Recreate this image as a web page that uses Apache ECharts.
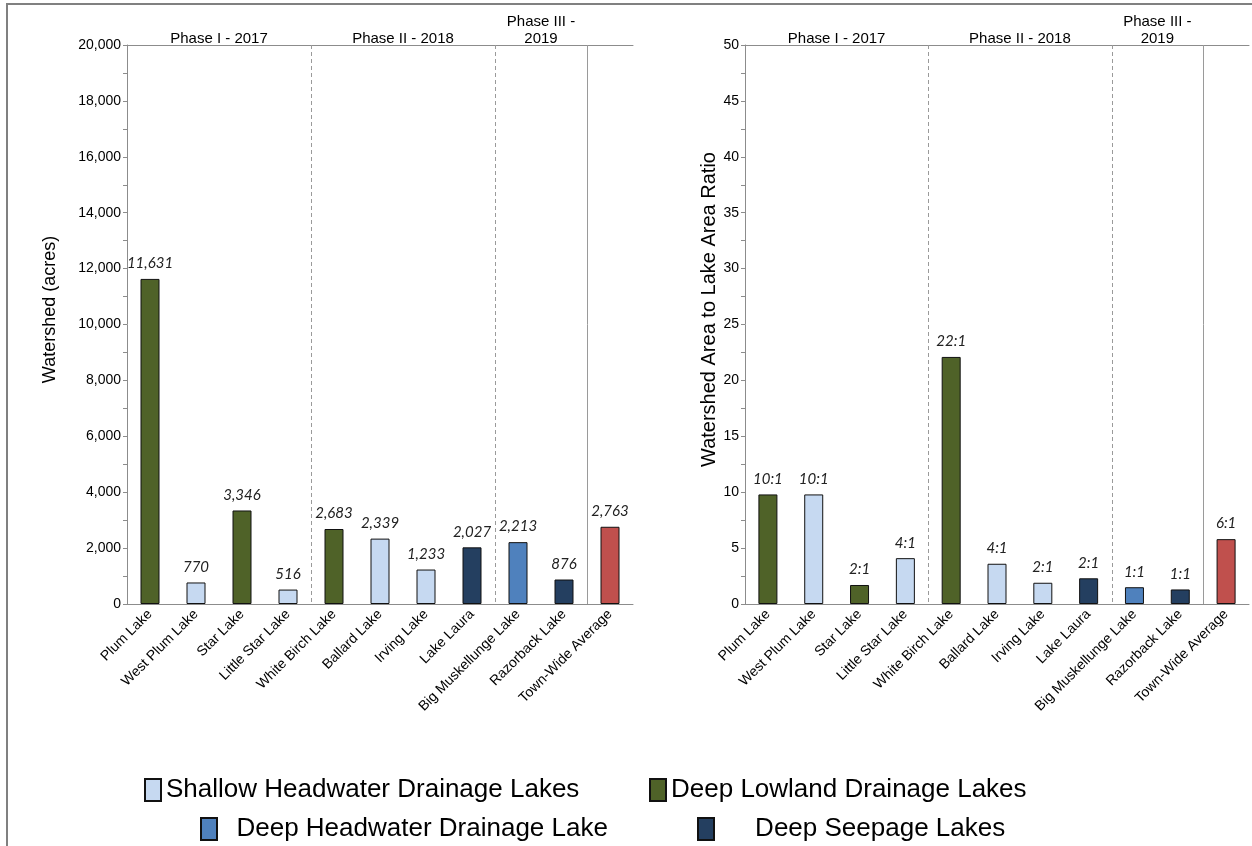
<!DOCTYPE html>
<html><head><meta charset="utf-8">
<script src="https://cdn.jsdelivr.net/npm/echarts@6/dist/echarts.min.js"></script>
<style>html,body{margin:0;padding:0;background:#fff}#c{width:1252px;height:846px}</style>
</head><body><div id="c"></div>
<script>
const lakes = ['Plum Lake','West Plum Lake','Star Lake','Little Star Lake','White Birch Lake','Ballard Lake','Irving Lake','Lake Laura','Big Muskellunge Lake','Razorback Lake','Town-Wide Average'];
const lakeClass = ['Deep Lowland Drainage Lakes','Shallow Headwater Drainage Lakes','Deep Lowland Drainage Lakes','Shallow Headwater Drainage Lakes','Deep Lowland Drainage Lakes','Shallow Headwater Drainage Lakes','Shallow Headwater Drainage Lakes','Deep Seepage Lakes','Deep Headwater Drainage Lake','Deep Seepage Lakes','Town-Wide Average'];
const watershedAcres = [11631,770,3346,516,2683,2339,1233,2027,2213,876,2763];
const areaRatio = [9.8,9.8,1.7,4.1,22.1,3.6,1.9,2.3,1.5,1.3,5.8];
const ratioLabels = ['10:1','10:1','2:1','4:1','22:1','4:1','2:1','2:1','1:1','1:1','6:1'];
const classNames = ['Shallow Headwater Drainage Lakes','Deep Lowland Drainage Lakes','Deep Headwater Drainage Lake','Deep Seepage Lakes','Town-Wide Average'];
const classColors = ['#C6D9F1','#4F6228','#4F81BD','#243F60','#C0504D'];
const phaseCenters = [2,6,9];
const phaseLabels = ['Phase I - 2017','Phase II - 2018','Phase III -\n2019'];
const phaseBreaks = [4,8];
const averageBreak = [10];
const leftAxis = {min:0,max:20000,interval:2000};
const rightAxis = {min:0,max:50,interval:5};

const FONT = '"Liberation Sans", Arial, sans-serif';
const AX = '#8c8c8c';

function barSeries(values, labelFn, xi, yi){
  return classNames.map((cn, k) => ({
    type:'bar', name:cn, xAxisIndex:xi, yAxisIndex:yi, stack:'s'+xi,
    barWidth:19,
    data: values.map((v,i)=> lakeClass[i]===cn ? v : '-'),
    itemStyle:{color:classColors[k], borderColor:'#111', borderWidth:1},
    label:{show:true, position:'top', distance:8, fontStyle:'italic', fontSize:15,
      fontFamily:'Lato, "Open Sans", sans-serif', color:'#222',
      formatter:p=>labelFn(p.dataIndex)},
    emphasis:{disabled:true}, animation:false
  }));
}
function sepSeries(breaks, xi, yi, dashed){
  return {type:'custom', xAxisIndex:xi, yAxisIndex:yi, silent:true, animation:false, clip:false,
    data: breaks.map(b=>[b,0]),
    renderItem:(params, api)=>{
      const p = api.coord([api.value(0),0]);
      const cs = params.coordSys;
      return {type:'line', shape:{x1:Math.round(p[0])+0.5,y1:cs.y,x2:Math.round(p[0])+0.5,y2:cs.y+cs.height},
        style:{stroke:'#9a9a9a', lineWidth:1, lineDash: dashed ? [4,3] : null}};
    }};
}
function catAxis(gi){
  return {type:'category', gridIndex:gi, data:lakes, position:'bottom',
    axisLine:{lineStyle:{color:AX,width:1}}, axisTick:{length:5,lineStyle:{color:AX}},
    axisLabel:{rotate:45, fontSize:14, color:'#000', fontFamily:FONT, margin:8, interval:0}};
}
function topAxis(gi){
  return {type:'value', gridIndex:gi, position:'top', min:0, max:lakes.length, interval:1,
    axisLine:{show:true,onZero:false,lineStyle:{color:AX}}, axisTick:{show:false}, splitLine:{show:false},
    axisLabel:{fontSize:15, color:'#000', fontFamily:FONT, margin:-2, lineHeight:17, interval:0,
      showMinLabel:true, showMaxLabel:true,
      formatter:v=>{const k=phaseCenters.indexOf(v); return k>=0?phaseLabels[k]:'';}}};
}
function valAxis(gi, cfg, name, gap, nameSize, fmt){
  return {type:'value', gridIndex:gi, min:cfg.min, max:cfg.max, interval:cfg.interval,
    name:name, nameLocation:'middle', nameGap:gap,
    nameTextStyle:{fontSize:nameSize,color:'#000',fontFamily:FONT,padding:[0,0,0,30]},
    axisLine:{show:true,lineStyle:{color:AX}}, axisTick:{show:true,length:4,lineStyle:{color:AX}},
    minorTick:{show:true,splitNumber:2,length:4,lineStyle:{color:AX}},
    splitLine:{show:false},
    axisLabel:{fontSize:14,color:'#000',fontFamily:FONT,margin:6,formatter:fmt}};
}
const legendPos = [
  {left:139, top:772},
  {left:644, top:772},
  {left:195, top:811},
  {left:692, top:811}
];
const legendText = ['Shallow Headwater Drainage Lakes','Deep Lowland Drainage Lakes','  Deep Headwater Drainage Lake','     Deep Seepage Lakes'];
const chart = echarts.init(document.getElementById('c'), null, {renderer:'canvas'});
chart.setOption({
  animation:false,
  backgroundColor:'#fff',
  graphic:[{type:'rect', shape:{x:7,y:4,width:1400,height:1000}, style:{fill:'none',stroke:'#808080',lineWidth:2}, silent:true}],
  grid:[{left:127, top:45, width:506, bottom:242},{left:745, top:45, width:514, bottom:242}],
  xAxis:[catAxis(0), topAxis(0), catAxis(1), topAxis(1)],
  yAxis:[valAxis(0,leftAxis,'Watershed (acres)',68,18,v=>v.toLocaleString('en-US')),
         valAxis(1,rightAxis,'Watershed Area to Lake Area Ratio',22,20,v=>String(v))],
  legend: classNames.slice(0,4).map((cn,i)=>({data:[cn], left:legendPos[i].left, top:legendPos[i].top,
    itemWidth:16, itemHeight:22, itemGap:8, icon:'rect', selectedMode:false,
    formatter:()=>legendText[i],
    textStyle:{fontSize:26,color:'#000',fontFamily:FONT}})),
  series:[
    ...barSeries(watershedAcres, i=>watershedAcres[i].toLocaleString('en-US'), 0, 0),
    ...barSeries(areaRatio, i=>ratioLabels[i], 2, 1),
    sepSeries(phaseBreaks,1,0,true), sepSeries(averageBreak,1,0,false),
    sepSeries(phaseBreaks,3,1,true), sepSeries(averageBreak,3,1,false)
  ]
});
</script></body></html>
